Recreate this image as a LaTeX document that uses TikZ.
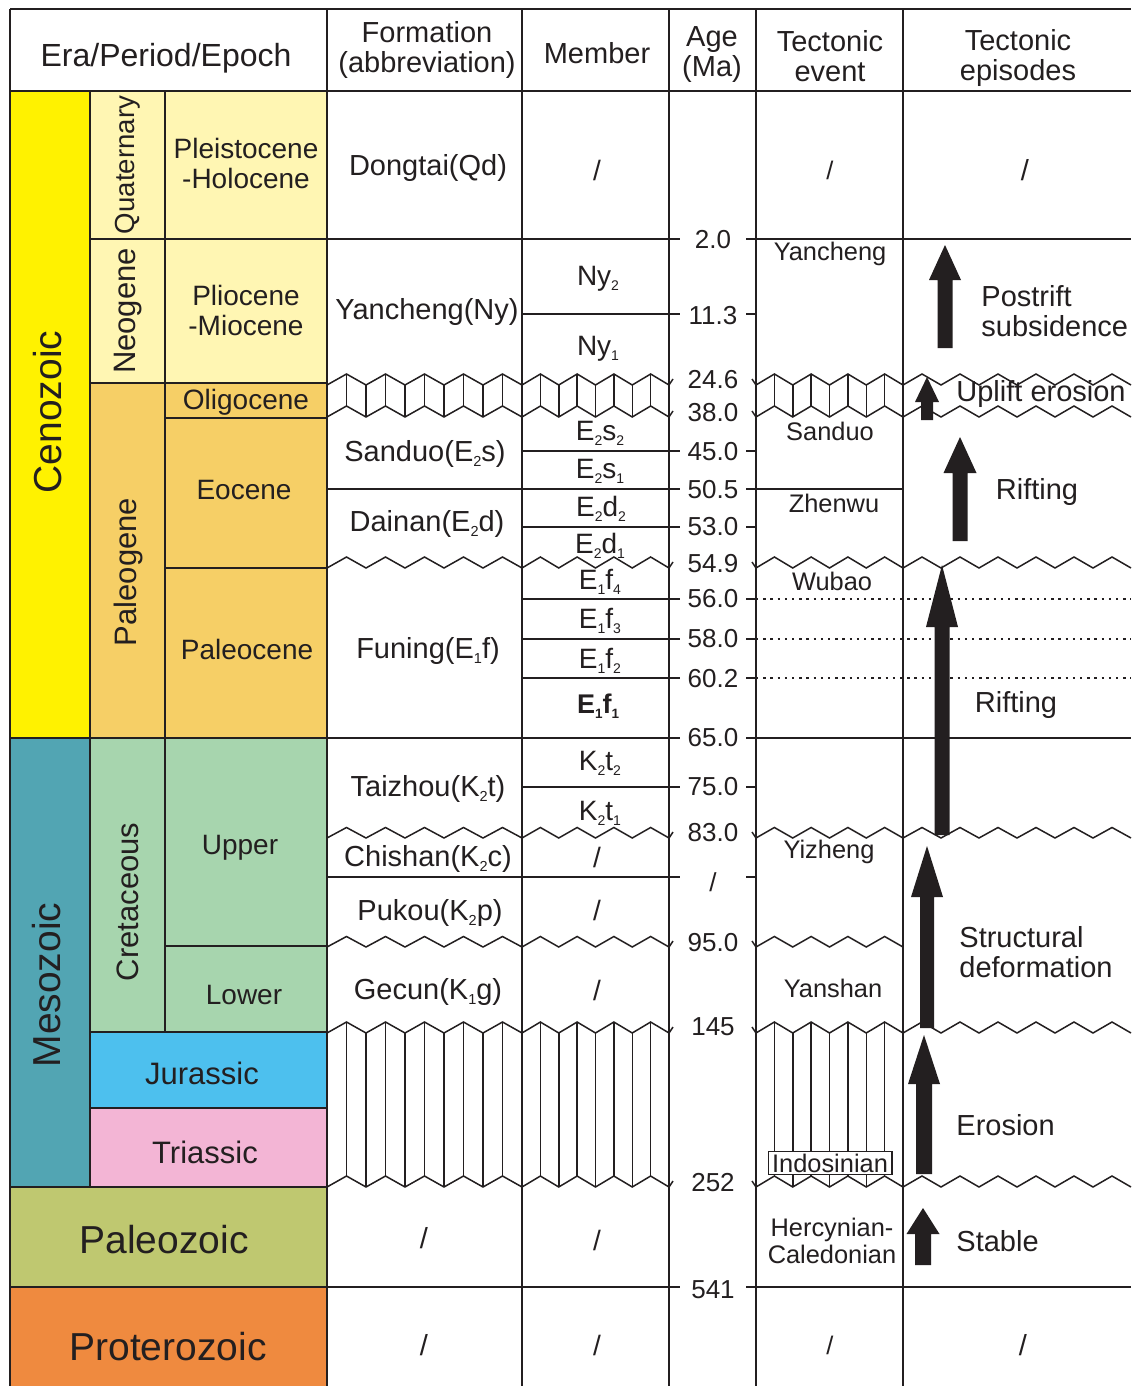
\documentclass[tikz,border=0pt]{standalone}
\usepackage{fontspec}
\setmainfont{Liberation Sans}
\usetikzlibrary{calc}
\definecolor{ceno}{HTML}{FFF200}
\definecolor{quat}{HTML}{FFF6B3}
\definecolor{paleog}{HTML}{F6CF66}
\definecolor{meso}{HTML}{52A5B3}
\definecolor{creta}{HTML}{A7D5AE}
\definecolor{jura}{HTML}{4DC0EE}
\definecolor{trias}{HTML}{F3B5D5}
\definecolor{paleoz}{HTML}{BFC870}
\definecolor{protero}{HTML}{EF8A3F}
\definecolor{ink}{HTML}{231F20}
\newcommand\lsub[1]{\raisebox{-0.35ex}{\scalebox{0.5}{#1}}}
% zigzag: x1, n periods, period, valley y, amplitude
\newcommand\zig[5]{%
  \draw[grid] (#1,#4) \foreach \k in {1,...,#2} { -- ({#1+(\k-0.5)*#3},{#4-#5}) -- ({#1+\k*#3},#4) };}
% band: x1, n, period, top valley, bottom valley, amplitude
\newcommand\zband[6]{%
  \zig{#1}{#2}{#3}{#4}{#6}%
  \zig{#1}{#2}{#3}{#5}{#6}%
  \pgfmathtruncatemacro\nv{2*#2-1}%
  \foreach \j in {1,...,\nv}{%
    \pgfmathsetmacro\off{mod(\j,2)*#6}%
    \draw[grid] ({#1+\j*#3/2},{#4-\off}) -- ({#1+\j*#3/2},{#5-\off});}}
% age-column small strokes at a wavy line
\newcommand\agewave[1]{%
  \draw[grid] (669,#1) -- (673,{#1-6});
  \draw[grid] (752,{#1-6}) -- (756,#1);}
% block arrow: x, tip, head base, bottom, head half width, shaft half width
\newcommand\barrow[6]{%
  \fill[ink] ({#1-#6},#4) -- ({#1-#6},#3) -- ({#1-#5},#3) -- (#1,#2) -- ({#1+#5},#3) -- ({#1+#6},#3) -- ({#1+#6},#4) -- cycle;}
\begin{document}
\begin{tikzpicture}[x=0.5pt,y=-0.5pt,
  grid/.style={draw=ink,line width=0.75pt},
  dotline/.style={draw=ink,line width=0.7pt,dash pattern=on 1.2pt off 2.4pt},
  cellbox/.style={draw=ink,line width=0.75pt},
  tx/.style={text=ink,inner sep=0pt,align=center},
  hdr/.style={tx,font=\fontsize{14.5}{15}\selectfont},
  eralbl/.style={tx,font=\fontsize{19.5}{20}\selectfont},
  perlbl/.style={tx,font=\fontsize{15.5}{16}\selectfont},
  epolbl/.style={tx,font=\fontsize{14}{15}\selectfont},
  frmlbl/.style={tx,font=\fontsize{14.5}{15}\selectfont},
  memlbl/.style={tx,font=\fontsize{14}{15}\selectfont},
  agelbl/.style={tx,font=\fontsize{13}{14}\selectfont},
  evtlbl/.style={tx,font=\fontsize{12.7}{13.5}\selectfont},
  epilbl/.style={tx,font=\fontsize{14.5}{15}\selectfont},
]
\useasboundingbox (0,0) rectangle (1131,1386);
\fill[white] (0,0) rectangle (1131,1386);

% ---- coloured stratigraphic cells ----
\filldraw[cellbox,fill=ceno] (10,91) rectangle (90,738);
\filldraw[cellbox,fill=quat] (90,91) rectangle (165,239);
\filldraw[cellbox,fill=quat] (165,91) rectangle (327,239);
\filldraw[cellbox,fill=quat] (90,239) rectangle (165,383);
\filldraw[cellbox,fill=quat] (165,239) rectangle (327,383);
\filldraw[cellbox,fill=paleog] (90,383) rectangle (165,738);
\filldraw[cellbox,fill=paleog] (165,383) rectangle (327,418);
\filldraw[cellbox,fill=paleog] (165,418) rectangle (327,568);
\filldraw[cellbox,fill=paleog] (165,568) rectangle (327,738);
\filldraw[cellbox,fill=meso] (10,738) rectangle (90,1187);
\filldraw[cellbox,fill=creta] (90,738) rectangle (165,1032);
\filldraw[cellbox,fill=creta] (165,738) rectangle (327,946);
\filldraw[cellbox,fill=creta] (165,946) rectangle (327,1032);
\filldraw[cellbox,fill=jura] (90,1032) rectangle (327,1108);
\filldraw[cellbox,fill=trias] (90,1108) rectangle (327,1187);
\filldraw[cellbox,fill=paleoz] (10,1187) rectangle (327,1287);
\filldraw[cellbox,fill=protero] (10,1287) rectangle (327,1400);

% ---- frame ----
\draw[grid] (10,9) -- (1131,9);
\draw[grid] (10,91) -- (1131,91);
\foreach \xx in {10,327,522,669,756,903} \draw[grid] (\xx,9) -- (\xx,1400);

% ---- straight horizontal lines ----
\draw[grid] (327,239) -- (680,239); \draw[grid] (746,239) -- (1131,239);
\draw[grid] (522,314) -- (680,314); \draw[grid] (746,314) -- (756,314);
\draw[grid] (522,451) -- (680,451); \draw[grid] (746,451) -- (756,451);
\draw[grid] (327,489) -- (680,489); \draw[grid] (746,489) -- (903,489);
\draw[grid] (522,527) -- (680,527); \draw[grid] (746,527) -- (756,527);
\foreach \yy in {599,639,678}{
  \draw[grid] (522,\yy) -- (680,\yy); \draw[grid] (746,\yy) -- (756,\yy);
  \draw[dotline] (756,\yy) -- (1131,\yy);}
\draw[grid] (327,738) -- (680,738); \draw[grid] (746,738) -- (1131,738);
\draw[grid] (522,787) -- (680,787); \draw[grid] (746,787) -- (756,787);
\draw[grid] (327,877) -- (680,877); \draw[grid] (746,877) -- (756,877);
\draw[grid] (327,1287) -- (680,1287); \draw[grid] (746,1287) -- (1131,1287);

% ---- unconformities ----
% 24.6 - 38.0 band
\zband{327}{5}{39}{385}{417}{11}
\zband{522}{4}{36.75}{385}{417}{11}
\zband{756}{4}{36.75}{385}{417}{11}
\zig{903}{6}{38}{385}{11}
\zig{903}{6}{38}{417}{11}
\agewave{385}\agewave{417}
% 54.9
\zig{327}{5}{39}{568}{11}\zig{522}{4}{36.75}{568}{11}
\zig{756}{4}{36.75}{568}{11}\zig{903}{6}{38}{568}{11}
\agewave{568}
% 83.0
\zig{327}{5}{39}{838}{10.5}\zig{522}{4}{36.75}{838}{10.5}
\zig{756}{4}{36.75}{838}{10.5}\zig{903}{6}{38}{838}{10.5}
\agewave{838}
% 95.0
\zig{327}{5}{39}{947}{10.5}\zig{522}{4}{36.75}{947}{10.5}
\zig{756}{4}{36.75}{947}{10.5}
\agewave{947}
% 145 - 252 band
\zband{327}{5}{39}{1033}{1187}{11}
\zband{522}{4}{36.75}{1033}{1187}{11}
\zband{756}{4}{36.75}{1033}{1187}{11}
\zig{903}{6}{38}{1033}{11}
\zig{903}{6}{38}{1187}{11}
\agewave{1033}\agewave{1187}

% ---- header ----
\node[hdr,font=\fontsize{16}{16}\selectfont] (hEra) at (166,58) {Era/Period/Epoch};
\node[hdr] (hForm) at (427,50) {Formation\\(abbreviation)};
\node[hdr] (hMem) at (597,53) {Member};
\node[hdr] (hAge) at (712,55) {Age\\(Ma)};
\node[hdr] (hEvt) at (830,56) {Tectonic\\event};
\node[hdr] (hEpi) at (1018,58) {Tectonic\\episodes};

% ---- era / period / epoch ----
\node[eralbl,rotate=90] (eCeno) at (48,412) {Cenozoic};
\node[eralbl,rotate=90] (eMeso) at (47,985) {Mesozoic};
\node[eralbl] (ePaleoz) at (164,1240) {Paleozoic};
\node[eralbl] (eProt) at (168,1347) {Proterozoic};
\node[perlbl,rotate=90,font=\fontsize{13.8}{14}\selectfont] (pQuat) at (128,165) {Quaternary};
\node[perlbl,rotate=90] (pNeo) at (128,311) {Neogene};
\node[perlbl,rotate=90] (pPaleog) at (128,572) {Paleogene};
\node[perlbl,rotate=90] (pCret) at (128,902) {Cretaceous};
\node[perlbl] (pJur) at (202,1073) {Jurassic};
\node[perlbl] (pTri) at (205,1152) {Triassic};
\node[epolbl] (epPH) at (246,163) {Pleistocene\\-Holocene};
\node[epolbl] (epPM) at (246,310) {Pliocene\\-Miocene};
\node[epolbl] (epOli) at (246,402) {Oligocene};
\node[epolbl] (epEoc) at (244,490) {Eocene};
\node[epolbl] (epPal) at (247,649) {Paleocene};
\node[epolbl] (epUp) at (240,848) {Upper};
\node[epolbl] (epLo) at (244,995) {Lower};

% ---- formations ----
\node[frmlbl] (fQd) at (428,168) {Dongtai(Qd)};
\node[frmlbl] (fNy) at (427,312) {Yancheng(Ny)};
\node[frmlbl] (fEs) at (425,454) {Sanduo(E\lsub{2}s)};
\node[frmlbl] (fEd) at (427,524) {Dainan(E\lsub{2}d)};
\node[frmlbl] (fEf) at (428,651) {Funing(E\lsub{1}f)};
\node[frmlbl] (fKt) at (428,789) {Taizhou(K\lsub{2}t)};
\node[frmlbl] (fKc) at (428,859) {Chishan(K\lsub{2}c)};
\node[frmlbl] (fKp) at (430,913) {Pukou(K\lsub{2}p)};
\node[frmlbl] (fKg) at (428,992) {Gecun(K\lsub{1}g)};
\node[frmlbl] (fPz) at (424,1238) {/};
\node[frmlbl] (fPt) at (424,1345) {/};

% ---- members ----
\node[memlbl] (mQ) at (597,170) {/};
\node[memlbl] (mNy2) at (598,279) {Ny\lsub{2}};
\node[memlbl] (mNy1) at (598,349) {Ny\lsub{1}};
\node[memlbl] (mEs2) at (600,433) {E\lsub{2}s\lsub{2}};
\node[memlbl] (mEs1) at (600,471) {E\lsub{2}s\lsub{1}};
\node[memlbl] (mEd2) at (601,509) {E\lsub{2}d\lsub{2}};
\node[memlbl] (mEd1) at (600,546) {E\lsub{2}d\lsub{1}};
\node[memlbl] (mEf4) at (600,582) {E\lsub{1}f\lsub{4}};
\node[memlbl] (mEf3) at (600,621) {E\lsub{1}f\lsub{3}};
\node[memlbl] (mEf2) at (600,661) {E\lsub{1}f\lsub{2}};
\node[memlbl,font=\bfseries\fontsize{13.5}{15}\selectfont] (mEf1) at (598,706) {E\lsub{1}f\lsub{1}};
\node[memlbl] (mKt2) at (600,763) {K\lsub{2}t\lsub{2}};
\node[memlbl] (mKt1) at (600,813) {K\lsub{2}t\lsub{1}};
\node[memlbl] (mKc) at (597,857) {/};
\node[memlbl] (mKp) at (597,910) {/};
\node[memlbl] (mKg) at (597,990) {/};
\node[memlbl] (mPz) at (597,1240) {/};
\node[memlbl] (mPt) at (597,1345) {/};

% ---- ages ----
\node[agelbl] (a1) at (713,240) {2.0};
\node[agelbl] (a2) at (713,316) {11.3};
\node[agelbl] (a3) at (713,380) {24.6};
\node[agelbl] (a4) at (713,413) {38.0};
\node[agelbl] (a5) at (713,452) {45.0};
\node[agelbl] (a6) at (713,490) {50.5};
\node[agelbl] (a7) at (713,527) {53.0};
\node[agelbl] (a8) at (713,564) {54.9};
\node[agelbl] (a9) at (713,599) {56.0};
\node[agelbl] (a10) at (713,639) {58.0};
\node[agelbl] (a11) at (713,679) {60.2};
\node[agelbl] (a12) at (713,738) {65.0};
\node[agelbl] (a13) at (713,787) {75.0};
\node[agelbl] (a14) at (713,833) {83.0};
\node[agelbl] (a15) at (713,882) {/};
\node[agelbl] (a16) at (713,943) {95.0};
\node[agelbl] (a17) at (713,1027) {145};
\node[agelbl] (a18) at (713,1183) {252};
\node[agelbl] (a19) at (713,1290) {541};

% ---- tectonic events ----
\node[evtlbl] (ev0) at (830,170) {/};
\node[evtlbl] (ev1) at (830,254) {Yancheng};
\node[evtlbl] (ev2) at (830,431) {Sanduo};
\node[evtlbl] (ev3) at (834,503) {Zhenwu};
\node[evtlbl] (ev4) at (832,581) {Wubao};
\node[evtlbl] (ev5) at (829,852) {Yizheng};
\node[evtlbl] (ev6) at (833,988) {Yanshan};
\node[evtlbl,draw=ink,line width=0.6pt,fill=white,inner xsep=2pt,inner ysep=1pt] (ev7) at (830,1163) {Indosinian};
\node[evtlbl] (ev8) at (832,1241) {Hercynian-\\Caledonian};
\node[evtlbl] (ev9) at (830,1345) {/};

% ---- tectonic episodes ----
\barrow{945}{245}{280}{348}{16}{7.5}
\barrow{927}{377}{402}{420}{12}{6}
\barrow{960}{437}{473}{541}{16.5}{7.5}
\barrow{942}{565}{627}{835}{16}{7.5}
\barrow{927}{846}{897}{1028}{16}{7}
\barrow{924}{1035}{1084}{1174}{16}{8}
\barrow{923}{1208}{1234}{1265}{16.5}{8}
\node[epilbl] (ep0) at (1025,170) {/};
\node[epilbl,anchor=west,align=left] (ep1) at (981,311) {Postrift\\subsidence};
\node[epilbl,anchor=west] (ep2) at (956,394) {Uplift erosion};
\node[epilbl] (ep3) at (1037,492) {Rifting};
\node[epilbl] (ep4) at (1016,705) {Rifting};
\node[epilbl,anchor=west,align=left] (ep5) at (959,952) {Structural\\deformation};
\node[epilbl,anchor=west] (ep6) at (956,1125) {Erosion};
\node[epilbl,anchor=west] (ep7) at (956,1241) {Stable};
\node[epilbl] (ep8) at (1023,1345) {/};
\end{tikzpicture}
\end{document}
